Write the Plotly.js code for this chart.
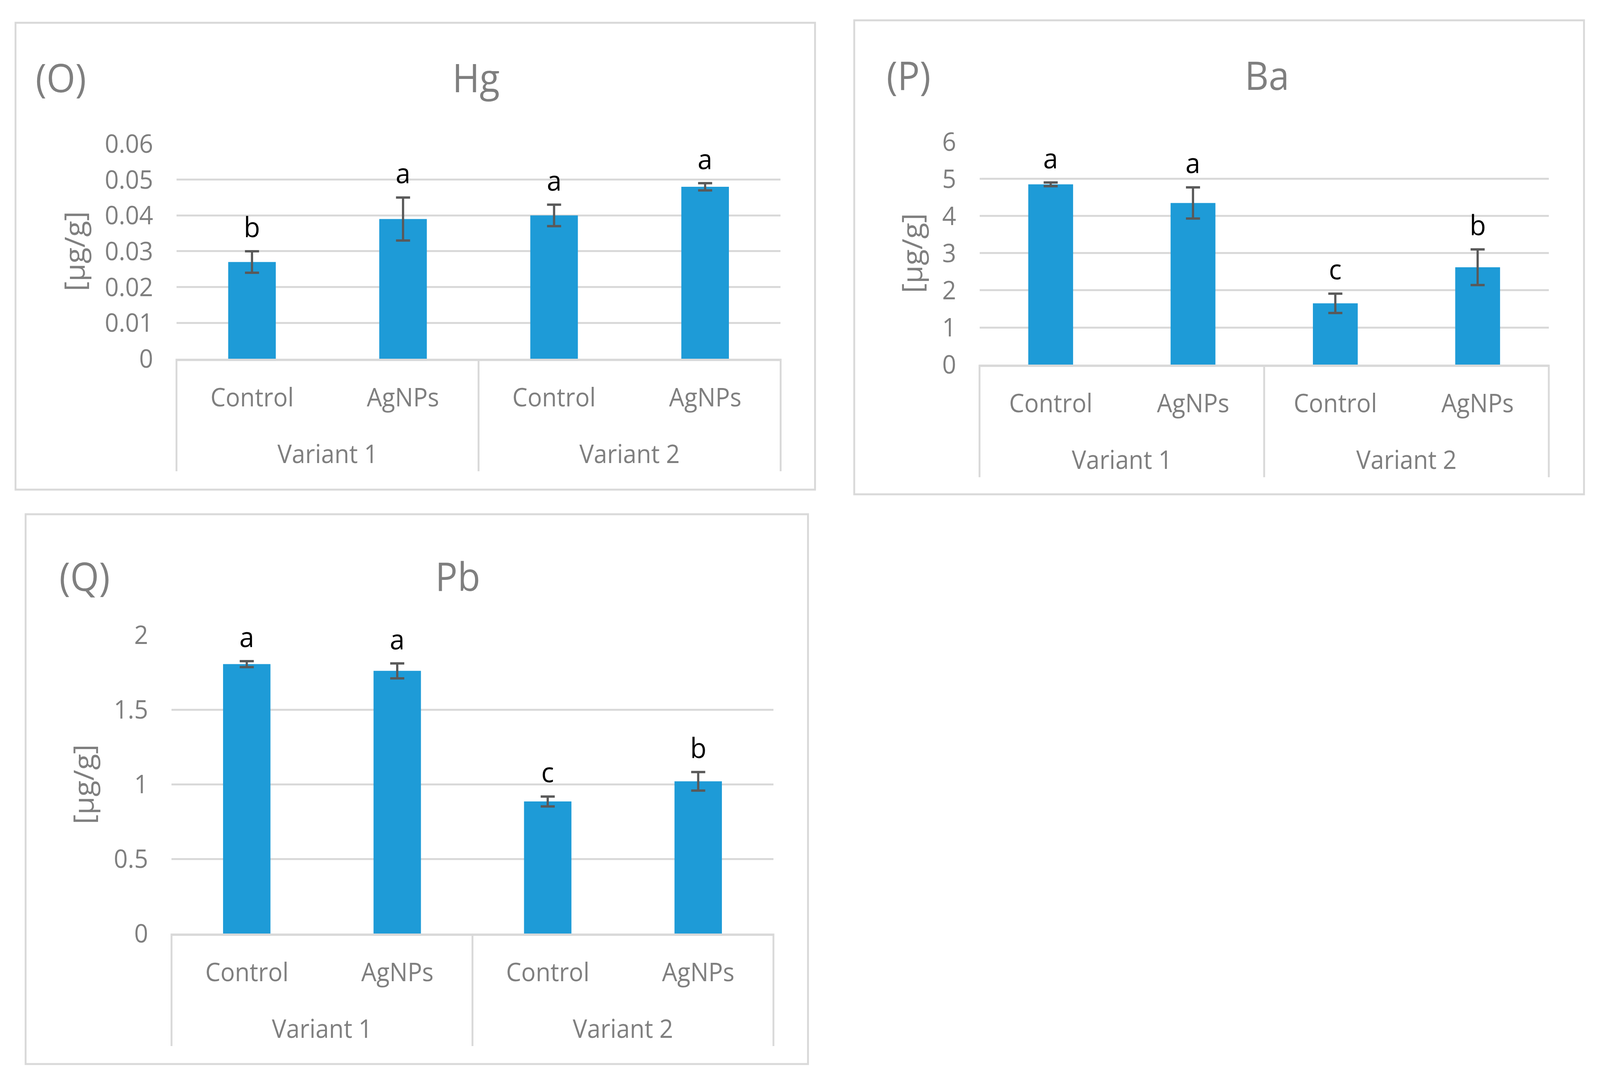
<!DOCTYPE html>
<html><head><meta charset="utf-8">
<script src="https://cdn.plot.ly/plotly-3.0.1.min.js"></script>
<style>html,body{margin:0;padding:0;background:#fff;overflow:hidden}</style>
</head><body><div id="chart" style="width:4319px;height:2769px;transform-origin:0 0"></div>
<script>
// ---- data ----
const groups = ['Variant 1', 'Variant 1', 'Variant 2', 'Variant 2'];
const treatments = ['Control', 'AgNPs', 'Control', 'AgNPs'];
const groupNames = ['Variant 1', 'Variant 2'];

const hgValues = [0.027, 0.039, 0.040, 0.048];
const hgErrors = [0.003, 0.006, 0.003, 0.001];
const hgLetters = ['b', 'a', 'a', 'a'];

const baValues = [4.85, 4.35, 1.65, 2.62];
const baErrors = [0.05, 0.42, 0.26, 0.48];
const baLetters = ['a', 'a', 'c', 'b'];

const pbValues = [1.805, 1.76, 0.885, 1.02];
const pbErrors = [0.02, 0.05, 0.033, 0.062];
const pbLetters = ['a', 'a', 'c', 'b'];

const panelLabels = ['(O)', '(P)', '(Q)'];
const elementNames = ['Hg', 'Ba', 'Pb'];
const yTitle = '[µg/g]';

// ---- styling / layout ----
const W = 4319, H = 2769;
const FONT = 'Open Sans, Noto Sans, sans-serif';
const GRAY = '#7F7F7F';
const GRID = '#D9D9D9';
const BAR = '#1E9BD7';

const panels = [
  {vals: hgValues, errs: hgErrors, letters: hgLetters, name: elementNames[0], tag: panelLabels[0],
   xd: [0.1103, 0.4879], yd: [0.6685, 0.8671], range: [0, 0.06], dtick: 0.01,
   box: [0.0097, 0.5094, 0.5475, 0.9790], titleX: 0.2975, tagX: 0.038, titleY: 0.929},
  {vals: baValues, errs: baErrors, letters: baLetters, name: elementNames[1], tag: panelLabels[1],
   xd: [0.6122, 0.9680], yd: [0.6630, 0.8691], range: [0, 6], dtick: 1,
   box: [0.5339, 0.9900, 0.5432, 0.9812], titleX: 0.7919, tagX: 0.5678, titleY: 0.931},
  {vals: pbValues, errs: pbErrors, letters: pbLetters, name: elementNames[2], tag: panelLabels[2],
   xd: [0.1072, 0.4834], yd: [0.1372, 0.4131], range: [0, 2], dtick: 0.5,
   box: [0.0160, 0.5050, 0.0166, 0.5247], titleX: 0.286, tagX: 0.0528, titleY: 0.468}
];

const traces = [];
const annotations = [];
const shapes = [];
const layout = {
  width: W, height: H,
  margin: {l: 0, r: 0, t: 0, b: 0},
  paper_bgcolor: '#ffffff', plot_bgcolor: '#ffffff',
  showlegend: false,
  font: {family: FONT, color: GRAY, size: 65}
};

panels.forEach((p, k) => {
  const n = k === 0 ? '' : String(k + 1);
  traces.push({
    type: 'bar',
    x: [groups, treatments],
    y: p.vals,
    xaxis: 'x' + n, yaxis: 'y' + n,
    width: 0.315,
    marker: {color: BAR, line: {width: 0}},
    error_y: {type: 'data', array: p.errs, visible: true, color: '#595959', thickness: 6, width: 19},
    hoverinfo: 'none'
  });
  layout['xaxis' + n] = {
    type: 'multicategory',
    domain: p.xd,
    anchor: 'y' + n,
    showline: true, linecolor: GRID, linewidth: 6,
    showgrid: false, zeroline: false,
    ticks: '', showticklabels: false, showdividers: false,
    range: [-0.5, 3.5], fixedrange: true
  };
  layout['yaxis' + n] = {
    domain: p.yd,
    anchor: 'x' + n,
    range: p.range, dtick: p.dtick, tick0: 0,
    showgrid: true, gridcolor: GRID, gridwidth: 5,
    zeroline: false, showline: false, ticks: '',
    ticklabelstandoff: 62,
    tickfont: {family: FONT, size: 66, color: GRAY},
    title: {text: yTitle, font: {family: FONT, size: 75, color: GRAY}, standoff: 28},
    fixedrange: true
  };
  // significance letters
  p.vals.forEach((v, i) => {
    annotations.push({
      xref: 'x' + n, yref: 'y' + n, x: i, y: v + p.errs[i],
      text: p.letters[i], showarrow: false, yanchor: 'bottom', yshift: 13,
      font: {family: FONT, size: 72, color: '#000000'}
    });
    // category tick labels
    annotations.push({
      xref: 'x' + n, yref: 'y' + n, x: i, y: 0, yshift: -97,
      text: treatments[i], showarrow: false, yanchor: 'middle', xanchor: 'center',
      font: {family: FONT, size: 65, color: GRAY}
    });
  });
  // group labels (centred on their categories)
  groupNames.forEach((g) => {
    const idx = groups.map((v, i) => v === g ? i : -1).filter(i => i >= 0);
    const mid = (idx[0] + idx[idx.length - 1]) / 2;
    annotations.push({
      xref: 'x' + n, yref: 'y' + n, x: mid, y: 0, yshift: -242,
      text: g, showarrow: false, yanchor: 'middle', xanchor: 'center',
      font: {family: FONT, size: 65, color: GRAY}
    });
  });
  // group dividers: at both ends and between groups
  const divs = [p.xd[0], (p.xd[0] + p.xd[1]) / 2, p.xd[1]];
  divs.forEach(xp => {
    shapes.push({
      type: 'line', xref: 'paper', yref: 'paper',
      x0: xp, x1: xp, y0: p.yd[0], y1: p.yd[0] - 288 / H,
      line: {color: GRID, width: 5}
    });
  });
  annotations.push({
    xref: 'paper', yref: 'paper', x: p.titleX, y: p.titleY, xanchor: 'center', yanchor: 'middle',
    text: p.name, showarrow: false, font: {family: FONT, size: 100, color: GRAY}
  });
  annotations.push({
    xref: 'paper', yref: 'paper', x: p.tagX, y: p.titleY, xanchor: 'center', yanchor: 'middle',
    text: p.tag, showarrow: false, font: {family: FONT, size: 100, color: GRAY}
  });
  shapes.push({
    type: 'rect', xref: 'paper', yref: 'paper',
    x0: p.box[0], x1: p.box[1], y0: p.box[2], y1: p.box[3],
    line: {color: GRID, width: 5}, fillcolor: 'rgba(0,0,0,0)'
  });
});

layout.annotations = annotations;
layout.shapes = shapes;

// fit the fixed-size figure into whatever viewport the page gets
const el = document.getElementById('chart');
const sx = (window.innerWidth || W) / W, sy = (window.innerHeight || H) / H;
el.style.transform = 'scale(' + sx + ',' + sy + ')';

Plotly.newPlot('chart', traces, layout, {staticPlot: true, displayModeBar: false});
</script>
</body></html>
